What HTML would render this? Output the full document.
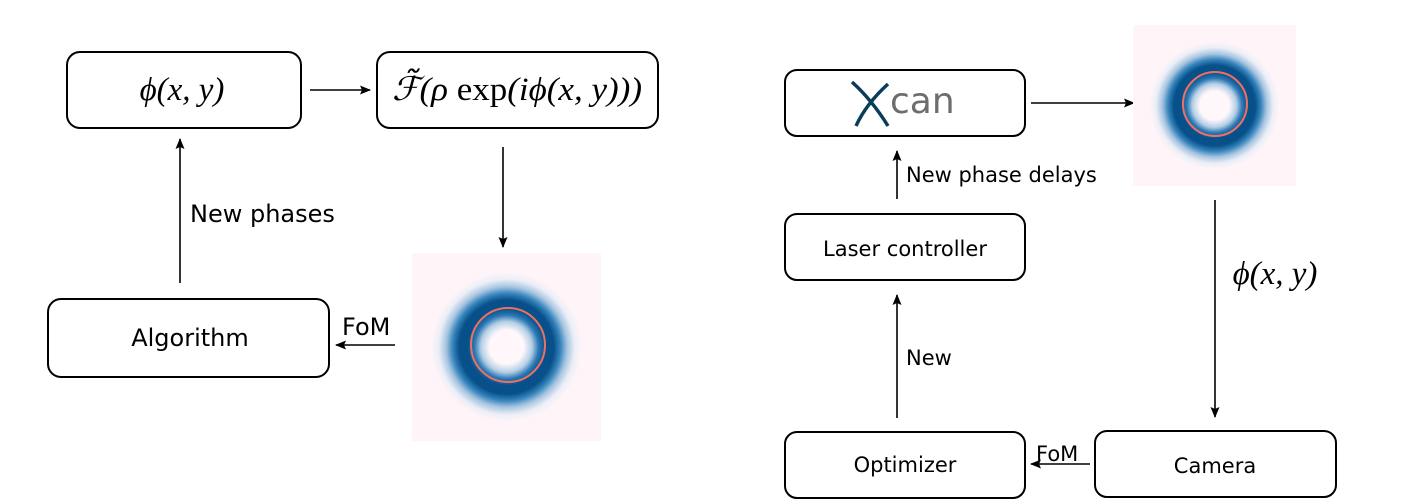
<!DOCTYPE html>
<html><head><meta charset="utf-8"><style>
html,body{margin:0;padding:0;background:#fff;}
svg{display:block;}
.t{font-family:"DejaVu Sans","Liberation Sans",sans-serif;font-size:21px;fill:#000;}
.tl{font-family:"DejaVu Sans","Liberation Sans",sans-serif;font-size:24px;fill:#000;}
.m{font-family:"Liberation Serif",serif;font-style:italic;font-size:33px;fill:#000;}
</style></head><body>
<svg width="1414" height="500" viewBox="0 0 1414 500" xmlns="http://www.w3.org/2000/svg">
<defs>
<marker id="a" markerWidth="11" markerHeight="9" refX="10" refY="4.5" orient="auto" markerUnits="userSpaceOnUse">
<path d="M0,0 L11,4.5 L0,9 L2,4.5 Z" fill="#000"/></marker>
<radialGradient id="g" cx="0.5" cy="0.5" r="0.5">
<stop offset="0" stop-color="#fff7fa"/>
<stop offset="0.18" stop-color="#fff7fa"/>
<stop offset="0.27" stop-color="#b4cfe6"/>
<stop offset="0.34" stop-color="#2a78b4"/>
<stop offset="0.41" stop-color="#08508a"/>
<stop offset="0.5" stop-color="#08508a"/>
<stop offset="0.57" stop-color="#3584bc"/>
<stop offset="0.64" stop-color="#a6c4e0"/>
<stop offset="0.72" stop-color="#ebeef7"/>
<stop offset="0.8" stop-color="#fff5f8"/>
<stop offset="1" stop-color="#fff5f8"/>
</radialGradient>
</defs>
<g fill="none" stroke="#000" stroke-width="2">
<rect x="67" y="52" width="234" height="76" rx="13"/>
<rect x="377" y="52" width="281" height="76" rx="13"/>
<rect x="48" y="299" width="281" height="78" rx="13"/>
<rect x="785" y="70" width="240" height="66" rx="12"/>
<rect x="785" y="214" width="240" height="66" rx="12"/>
<rect x="785" y="432" width="240" height="66" rx="12"/>
<rect x="1095" y="431" width="241" height="66" rx="12"/>
</g>
<g stroke="#000" stroke-width="1.6" marker-end="url(#a)">
<line x1="310" y1="90" x2="370" y2="90"/>
<line x1="503" y1="147" x2="503" y2="247"/>
<line x1="180" y1="283" x2="180" y2="139"/>
<line x1="395" y1="345" x2="336" y2="345"/>
<line x1="1031" y1="103" x2="1134" y2="103"/>
<line x1="897" y1="199" x2="897" y2="151"/>
<line x1="897" y1="418" x2="897" y2="295"/>
<line x1="1215" y1="200" x2="1215" y2="417"/>
<line x1="1090" y1="464" x2="1031" y2="464"/>
</g>
<rect x="412" y="253" width="189" height="188" fill="url(#g)"/>
<circle cx="508" cy="345" r="37" fill="none" stroke="#f07060" stroke-width="2"/>
<rect x="1133" y="25" width="163" height="161" fill="url(#g)"/>
<circle cx="1215" cy="104" r="32" fill="none" stroke="#f07060" stroke-width="2"/>
<text class="m" x="182" y="100" text-anchor="middle">ϕ(x, y)</text>
<text class="m" x="392" y="100" font-size="30" textLength="250" lengthAdjust="spacingAndGlyphs">ℱ̃(ρ <tspan font-style="normal">exp</tspan>(iϕ(x, y)))</text>
<text class="tl" x="190" y="222">New phases</text>
<text class="tl" x="190" y="346" text-anchor="middle">Algorithm</text>
<text class="tl" x="342" y="335">FoM</text>
<path d="M852,82 Q872,100 888,126 M888,84 Q866,104 856,126" stroke="#0c3c5c" stroke-width="3.5" fill="none"/>
<text x="890" y="113" font-family="DejaVu Sans,sans-serif" font-size="36" fill="#6d6d6d">can</text>
<text class="t" x="906" y="182">New phase delays</text>
<text class="t" x="905" y="256" text-anchor="middle">Laser controller</text>
<text class="t" x="906" y="365">New</text>
<text class="t" x="905" y="472" text-anchor="middle">Optimizer</text>
<text class="t" x="1215" y="473" text-anchor="middle">Camera</text>
<text class="t" x="1036" y="461">FoM</text>
<text class="m" x="1275" y="284" text-anchor="middle" font-size="31">ϕ(x, y)</text>
</svg>
</body></html>
